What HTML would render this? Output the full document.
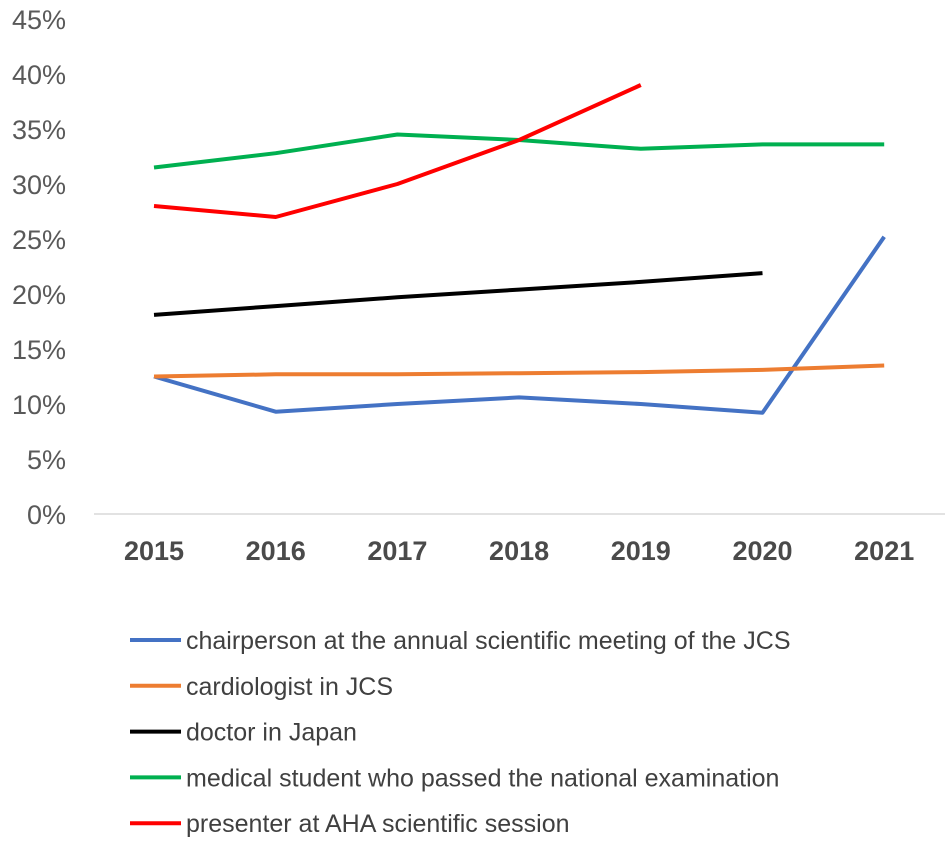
<!DOCTYPE html>
<html><head><meta charset="utf-8"><style>
body{margin:0;background:#fff;}
svg{display:block;font-family:"Liberation Sans",Arial,sans-serif;}
</style></head><body>
<svg id="chart" width="950" height="842"></svg>
<script>
const years=["2015","2016","2017","2018","2019","2020","2021"];
const yTicks=[0,5,10,15,20,25,30,35,40,45];
const chairperson=[12.5,9.3,10.0,10.6,10.0,9.2,25.2];
const cardiologist=[12.5,12.7,12.7,12.8,12.9,13.1,13.5];
const doctor=[18.1,18.9,19.7,20.4,21.1,21.9];
const student=[31.5,32.8,34.5,34.0,33.2,33.6,33.6];
const presenter=[28.0,27.0,30.0,34.0,39.0];
const seriesNames=["chairperson at the annual scientific meeting of the JCS","cardiologist in JCS","doctor in Japan","medical student who passed the national examination","presenter at AHA scientific session"];
const seriesData=[chairperson,cardiologist,doctor,student,presenter];
const colors=["#4472C4","#ED7D31","#000000","#00B050","#FF0000"];
const NS="http://www.w3.org/2000/svg";
const svg=document.getElementById('chart');
const x=i=>154+i*121.7;
const y=v=>514-v*11;
function el(t,a){const e=document.createElementNS(NS,t);for(const k in a)e.setAttribute(k,a[k]);svg.appendChild(e);return e;}
yTicks.forEach(v=>{const t=el('text',{x:66,y:y(v)+10,'text-anchor':'end','font-size':27,fill:'#595959'});t.textContent=v+'%';

});
const ax=el('line',{x1:94,x2:945,y1:y(0),y2:y(0),stroke:'#d9d9d9','stroke-width':1.5});


years.forEach((yr,i)=>{const t=el('text',{x:x(i),y:560,'text-anchor':'middle','font-size':27,'font-weight':'bold',fill:'#4a4a4a'});t.textContent=yr;

});
seriesData.forEach((d,s)=>{const p=el('polyline',{points:d.map((v,i)=>x(i)+','+y(v)).join(' '),fill:'none',stroke:colors[s],'stroke-width':4,'stroke-linejoin':'round'});


const ly=640+s*45.8;
const l=el('line',{x1:130,x2:181,y1:ly,y2:ly,stroke:colors[s],'stroke-width':4});


const t=el('text',{x:186,y:ly+9,'font-size':25,fill:'#404040'});t.textContent=seriesNames[s];

});
</script>
</body></html>
